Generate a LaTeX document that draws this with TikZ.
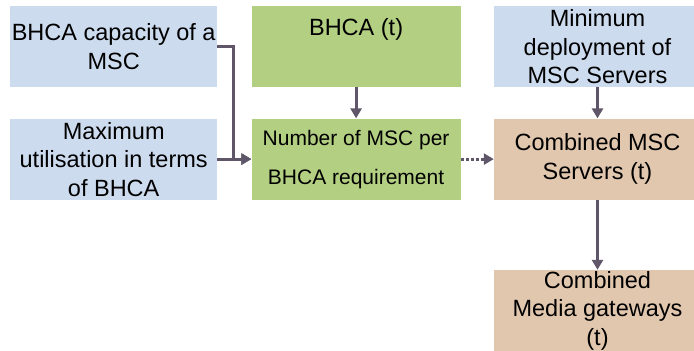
\documentclass[tikz,border=0pt]{standalone}
\usepackage{fontspec}
\setmainfont{Liberation Sans}
\usetikzlibrary{arrows.meta,positioning}
\definecolor{inblue}{RGB}{205,219,238}
\definecolor{calcgreen}{RGB}{179,207,130}
\definecolor{outtan}{RGB}{226,199,175}
\definecolor{ink}{RGB}{95,86,106}

\begin{document}
\begin{tikzpicture}[x=1pt,y=1pt,
  box/.style={rectangle,inner sep=0pt,align=center,minimum width=207pt,minimum height=81pt,
    font=\fontsize{23.5}{28.5}\selectfont},
  inbox/.style={box,fill=inblue},
  calcbox/.style={box,fill=calcgreen,minimum width=209pt},
  outbox/.style={box,fill=outtan},
  arrow/.style={-{Triangle[length=10pt,width=11pt]},line width=3pt,draw=ink},
  node distance=31pt and 34pt
]
\useasboundingbox (0,0) rectangle (694,-351);
\clip (0,0) rectangle (694,-351);
\node[inbox,anchor=north west] (cap) at (10,-6) {BHCA capacity of a\\MSC};
\node[inbox,below=of cap] (util) {Maximum\\utilisation in terms\\of BHCA};
\node[calcbox,right=of cap,text depth=40pt] (bhca) {BHCA (t)};
\node[calcbox,below=of bhca,font=\fontsize{21}{39}\selectfont] (num) {Number of MSC per\\BHCA requirement};
\node[inbox,right=33pt of bhca] (mindep) {Minimum\\deployment of\\MSC Servers};
\node[outbox,below=of mindep] (comb) {Combined MSC\\Servers (t)};
\node[outbox,below=70pt of comb] (media) {Combined\\Media gateways\\(t)};
\draw[arrow] (cap.east) -- ++(16,0) |- (num.west);
\draw[arrow] (util.east) -- (num.west);
\draw[arrow] (bhca) -- (num);
\draw[arrow,dash pattern=on 3pt off 2pt] (num) -- (comb);
\draw[arrow] (mindep) -- (comb);
\draw[arrow] (comb) -- (media);
\end{tikzpicture}
\end{document}
